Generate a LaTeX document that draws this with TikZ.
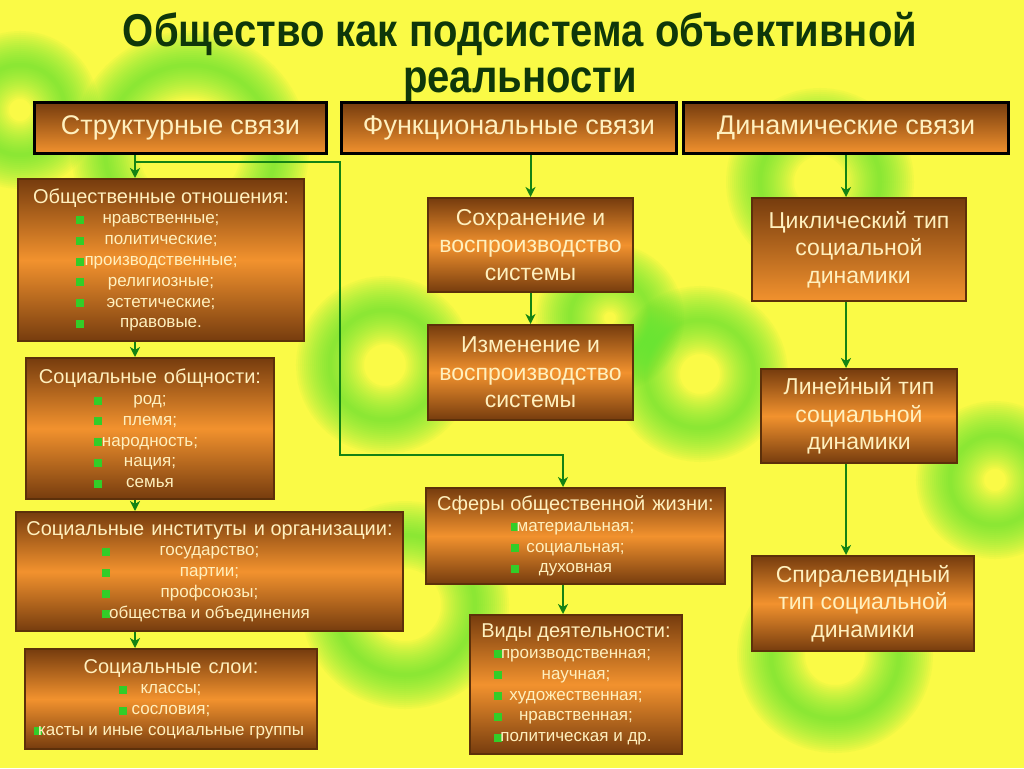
\documentclass[tikz,border=0pt]{standalone}
\usepackage{fontspec}
\setmainfont{Liberation Sans}
\newfontfamily\titlefont[FakeStretch=0.87]{Liberation Sans}
\usetikzlibrary{arrows.meta}

\definecolor{bgyellow}{RGB}{250,250,70}
\definecolor{blobgreen}{RGB}{80,228,50}
\definecolor{boxdark}{RGB}{118,60,14}
\definecolor{boxlight}{RGB}{242,146,46}
\definecolor{boxedge}{RGB}{92,48,10}
\definecolor{boxtext}{RGB}{255,240,190}
\definecolor{linkgreen}{RGB}{20,130,20}
\definecolor{titlegreen}{RGB}{15,55,10}
\definecolor{bulgreen}{RGB}{50,205,40}

\newcommand{\bul}{\textcolor{bulgreen}{\rule{8pt}{8pt}}}
\newcommand{\li}[2]{\makebox[#1pt]{\rlap{\bul}\hfill#2\hfill}}
\newcommand{\hd}[1]{{\fontsize{20}{21}\selectfont #1}}
\newcommand{\gap}{\hspace{7pt}}

\tikzset{
  box/.style={draw=boxedge, line width=2pt, top color=boxdark, bottom color=boxdark,
    middle color=boxlight, text=boxtext, align=center, inner sep=2pt,
    anchor=north west, font=\fontsize{17}{20.8}\selectfont},
  bigbox/.style={box, font=\fontsize{23}{27.5}\selectfont},
  fadebox/.style={draw=boxedge, line width=2pt, top color=boxdark, bottom color=boxlight,
    text=boxtext, align=center, inner sep=2pt, anchor=north west,
    font=\fontsize{23}{27.5}\selectfont},
  headbox/.style={fadebox, draw=black, line width=3pt, font=\fontsize{27}{30}\selectfont},
  link/.style={draw=linkgreen, line width=2pt, -{Stealth[length=10pt,width=10pt,inset=3pt]}},
  blob/.style={draw=blobgreen},
}

\begin{document}
\begin{tikzpicture}[x=1pt, y=-1pt]
  \useasboundingbox (0,0) rectangle (1024,768);
  \fill[bgyellow] (0,0) rectangle (1024,768);

  % blurred rings in the background
  \foreach \cx/\cy/\r in {190/150/85, 385/365/55, 700/374/54, 820/182/60,
      405/605/70, 835/655/64, 995/480/45, 610/318/40, 20/110/45}
    \foreach \lw in {68,64,...,4}
      \draw[blob, line width=\lw pt, opacity=0.055] (\cx,\cy) circle (\r pt);

  \node[align=center, text=titlegreen, font=\titlefont\bfseries\fontsize{46}{46}\selectfont]
    (title) at (520,57) {Общество как подсистема объективной\\реальности};

  % three kinds of links
  \node[headbox, minimum width=292pt, minimum height=51pt] (struct) at (33,101) {Структурные\gap связи};
  \node[headbox, minimum width=335pt, minimum height=51pt] (func) at (340,101) {Функциональные\gap связи};
  \node[headbox, minimum width=325pt, minimum height=51pt] (dyn) at (682,101) {Динамические\gap связи};

  % structure column
  \node[box, minimum width=286pt, minimum height=162pt] (rel) at (17,178) {%
    \hd{Общественные отношения:}\\
    \li{170}{нравственные;}\\
    \li{170}{политические;}\\
    \li{170}{производственные;}\\
    \li{170}{религиозные;}\\
    \li{170}{эстетические;}\\
    \li{170}{правовые.}};
  \node[box, minimum width=248pt, minimum height=141pt] (comm) at (25,357) {%
    \hd{Социальные\gap общности:}\\
    \li{112}{род;}\\
    \li{112}{племя;}\\
    \li{112}{народность;}\\
    \li{112}{нация;}\\
    \li{112}{семья}};
  \node[box, minimum width=387pt, minimum height=119pt] (inst) at (15,511) {%
    \hd{Социальные\gap институты\gap и организации:}\\
    \li{215}{государство;}\\
    \li{215}{партии;}\\
    \li{215}{профсоюзы;}\\
    \li{215}{общества и объединения}};
  \node[box, minimum width=292pt, minimum height=100pt] (strat) at (24,648) {%
    \hd{Социальные\gap слои:}\\
    \li{104}{классы;}\\
    \li{104}{сословия;}\\
    \li{274}{касты и иные социальные группы}};

  % function column
  \node[bigbox, minimum width=205pt, minimum height=94pt] (keep) at (427,197)
    {Сохранение и\\воспроизводство\\системы};
  \node[bigbox, minimum width=205pt, minimum height=95pt] (change) at (427,324)
    {Изменение и\\воспроизводство\\системы};
  \node[box, minimum width=299pt, minimum height=96pt] (spheres) at (425,487) {%
    \hd{Сферы общественной\gap жизни:}\\
    \li{129}{материальная;}\\
    \li{129}{социальная;}\\
    \li{129}{духовная}};
  \node[box, minimum width=212pt, minimum height=139pt] (acts) at (469,614) {%
    \hd{Виды деятельности:}\\
    \li{164}{производственная;}\\
    \li{164}{научная;}\\
    \li{164}{художественная;}\\
    \li{164}{нравственная;}\\
    \li{164}{политическая и др.}};

  % dynamics column
  \node[fadebox, minimum width=214pt, minimum height=103pt] (cyc) at (751,197)
    {Циклический тип\\социальной\\динамики};
  \node[bigbox, minimum width=196pt, minimum height=94pt] (lin) at (760,368)
    {Линейный тип\\социальной\\динамики};
  \node[bigbox, minimum width=222pt, minimum height=95pt] (spir) at (751,555)
    {Спиралевидный\\тип социальной\\динамики};

  % connectors
  \coordinate (spine) at (135,0);
  \coordinate (fork) at (135,162);
  \coordinate (bend) at (340,455);
  \coordinate (drop) at (563,455);
  \draw[link] (struct.south -| spine) -- (rel.north -| spine);
  \draw[link] (rel.south -| spine) -- (comm.north -| spine);
  \draw[link] (comm.south -| spine) -- (inst.north -| spine);
  \draw[link] (inst.south -| spine) -- (strat.north -| spine);
  \draw[link, line width=1.6pt] (fork) -| (bend) -| (spheres.north -| drop);
  \draw[link] (spheres.south -| drop) -- (acts.north -| drop);

  \draw[link] (func.south -| keep.north) -- (keep.north);
  \draw[link] (keep.south) -- (change.north);

  \draw[link] (dyn.south) -- (cyc.north -| dyn.south);
  \draw[link] (cyc.south -| dyn.south) -- (lin.north -| dyn.south);
  \draw[link] (lin.south -| dyn.south) -- (spir.north -| dyn.south);
\end{tikzpicture}
\end{document}
